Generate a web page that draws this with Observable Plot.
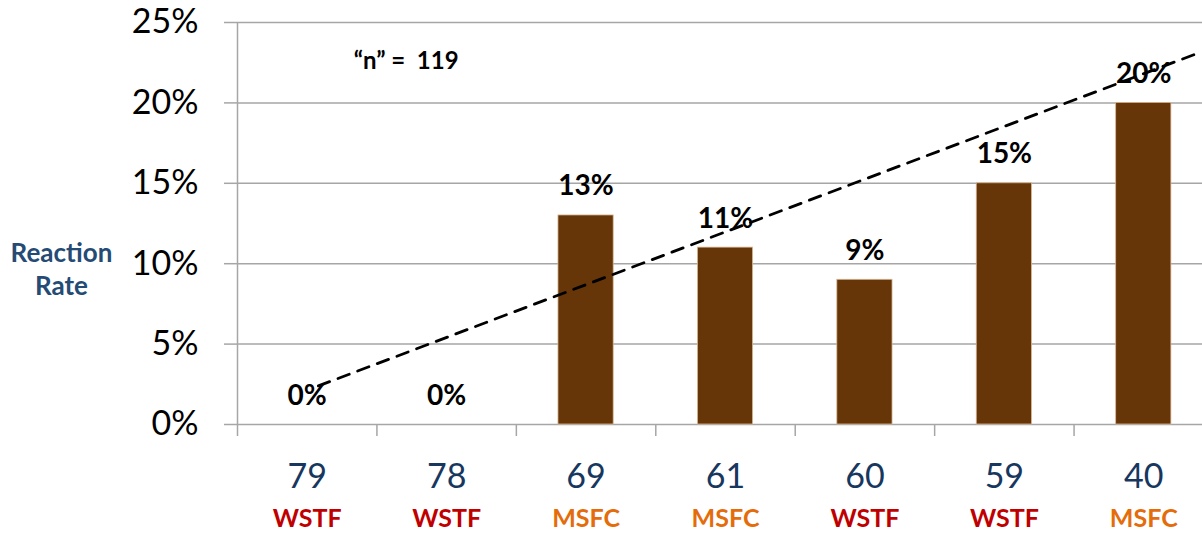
<!DOCTYPE html>
<html>
<head>
<meta charset="utf-8">
<script src="https://cdn.jsdelivr.net/npm/d3@7"></script>
<script src="https://cdn.jsdelivr.net/npm/@observablehq/plot@0.6"></script>
<style>
  html, body { margin: 0; padding: 0; background: #fff; }
</style>
</head>
<body>
<div id="chart"></div>
<script>
// ---- data ----
const categories = ["79", "78", "69", "61", "60", "59", "40"];
const sites = ["WSTF", "WSTF", "MSFC", "MSFC", "WSTF", "WSTF", "MSFC"];
const rates = [0, 0, 13, 11, 9, 15, 20];
const yTicks = [0, 5, 10, 15, 20, 25];
// dashed trend line (start / end; x in category index units)
const trendX = [0.08, 6.36];
const trendY = [2.4, 23.0];
const nLabel = "\u201Cn\u201D =  119";

const siteColor = {WSTF: "#C00000", MSFC: "#E46C0A"};
const gray = "#a6a6a6";
const font = "Lato, 'Open Sans', sans-serif";

const rows = categories.map((c, i) => ({i, cat: c, site: sites[i], rate: rates[i]}));
const trend = trendX.map((x, k) => ({x, y: trendY[k]}));
const boundaries = categories.map((c, i) => i - 0.5);

const chart = Plot.plot({
  width: 1202,
  height: 534,
  marginTop: 22,
  marginBottom: 110,
  marginLeft: 237,
  marginRight: 0,
  style: {fontFamily: font, background: "#fff", color: "#000"},
  x: {type: "linear", domain: [-0.5, categories.length - 0.5], range: [237, 1213], axis: null},
  y: {domain: [0, 25], axis: null},
  marks: [
    Plot.ruleY(yTicks, {stroke: gray, strokeWidth: 1.5}),
    Plot.ruleX([-0.5], {y1: 0, y2: 25, stroke: gray, strokeWidth: 1.5}),
    Plot.axisY({ticks: yTicks, tickSize: 13, tickPadding: 26, fontSize: 34,
      tickFormat: d => d + "%", stroke: gray, strokeWidth: 1.5, fill: "#000", label: null}),
    Plot.axisX({ticks: boundaries, tickSize: 12, tickFormat: () => "",
      stroke: gray, strokeWidth: 1.5, label: null}),
    Plot.rectY(rows, {x1: d => d.i - 0.198, x2: d => d.i + 0.198, y1: 0, y2: "rate",
      fill: "#663508", stroke: "#d9b894", strokeWidth: 0.8}),
    Plot.text(rows, {x: "i", y: "rate", text: d => d.rate + "%", lineAnchor: "bottom",
      dy: -20, fontSize: 28, fontWeight: "bold", fill: "#000"}),
    Plot.text(rows, {x: "i", frameAnchor: "bottom", text: "cat", lineAnchor: "bottom",
      dy: 63, fontSize: 34, fill: "#17375E"}),
    Plot.text(rows, {x: "i", frameAnchor: "bottom", text: "site", lineAnchor: "bottom",
      dy: 102, fontSize: 25, fontWeight: "bold", fill: d => siteColor[d.site]}),
    Plot.line(trend, {x: "x", y: "y", stroke: "#000", strokeWidth: 2.8,
      strokeDasharray: "12,9"}),
    Plot.text([nLabel], {x: 0.71, y: 22.6, fontSize: 24, fontWeight: "bold", fill: "#000",
      lineAnchor: "middle"}),
    Plot.text(["Reaction\nRate"], {frameAnchor: "left", textAnchor: "middle", dx: -176, dy: 14,
      lineAnchor: "top", lineHeight: 1.3, fontSize: 26, fontWeight: "bold", fill: "#254B75"})
  ]
});
document.getElementById("chart").appendChild(chart);
</script>
</body>
</html>
